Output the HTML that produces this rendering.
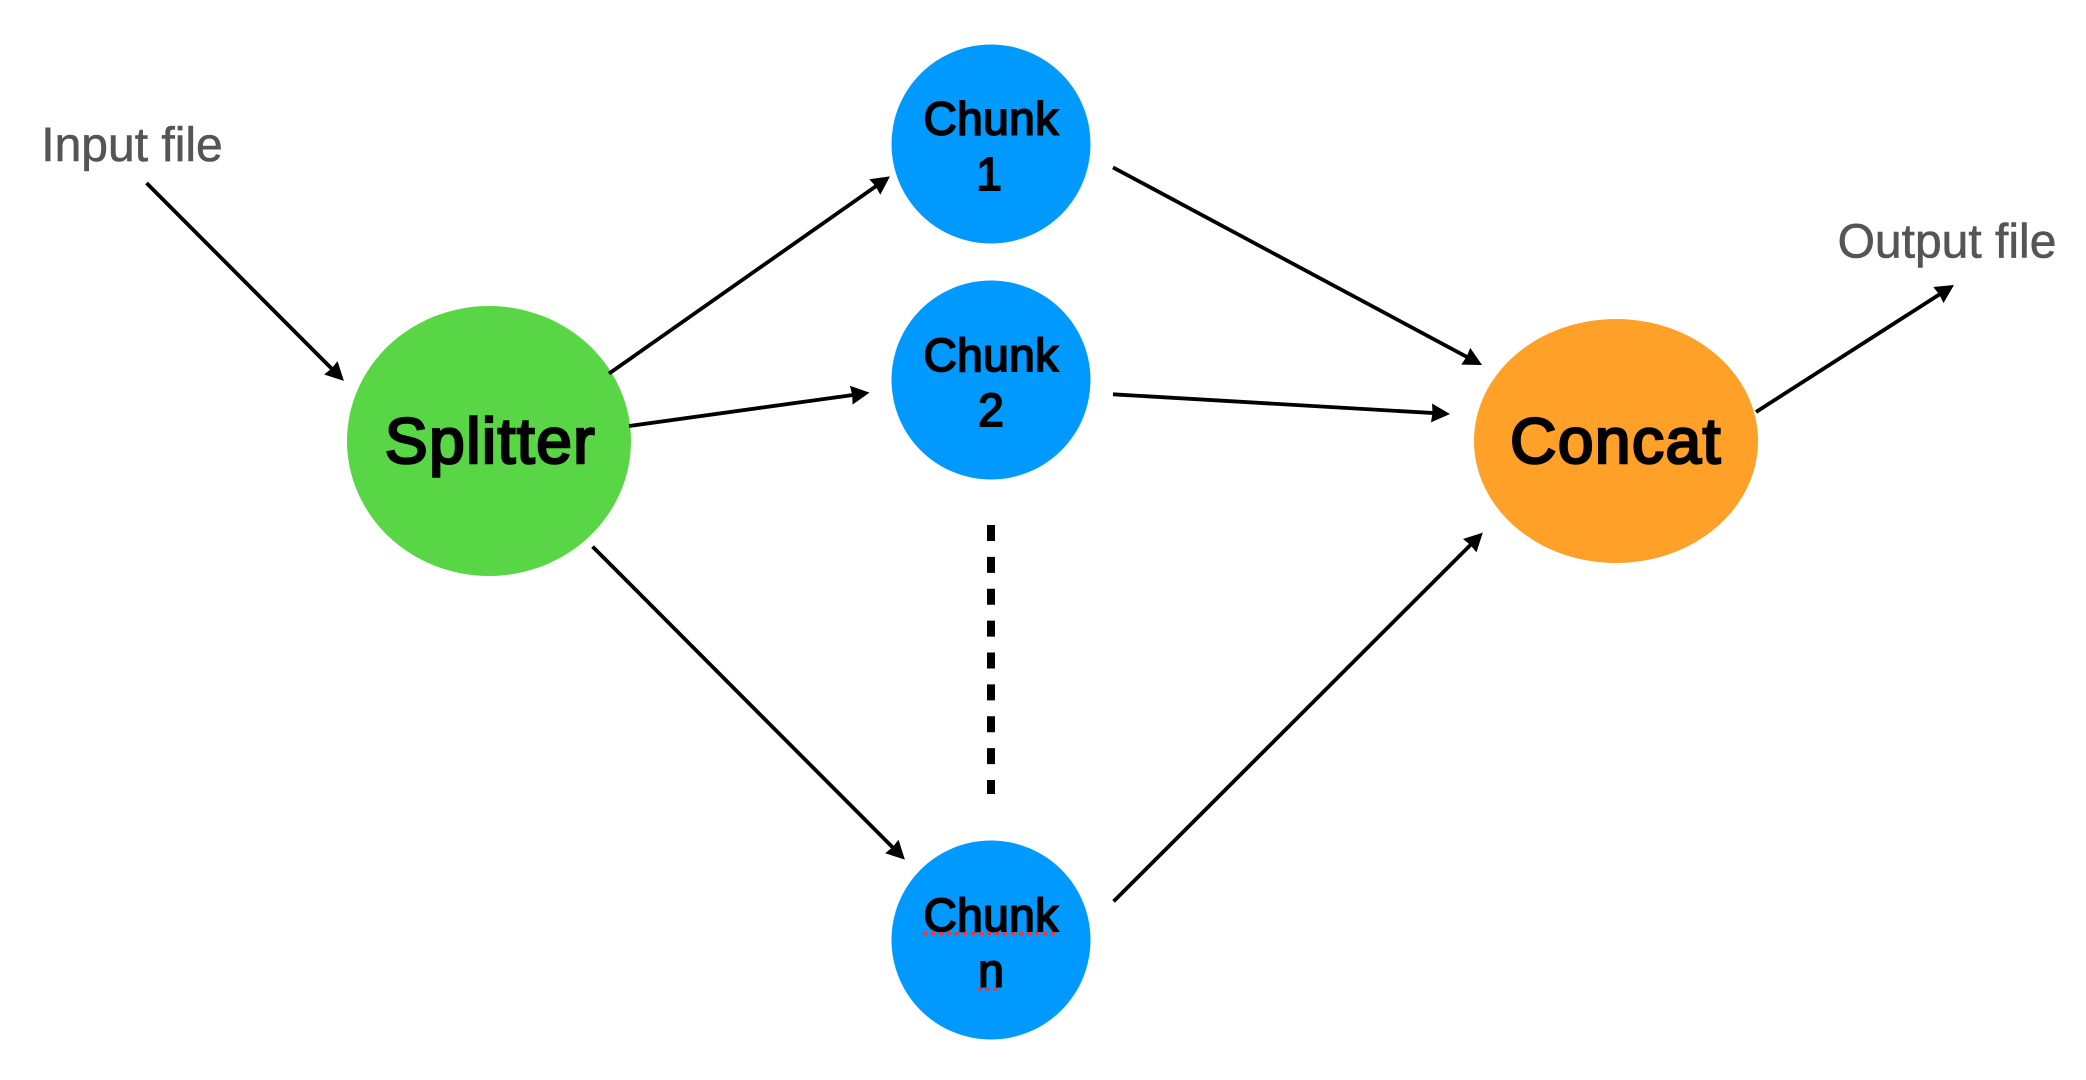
<!DOCTYPE html>
<html>
<head>
<meta charset="utf-8">
<style>
html,body{margin:0;padding:0;background:#fff;width:2086px;height:1080px;overflow:hidden}
svg{display:block}
text{font-family:"Liberation Sans",sans-serif;text-anchor:middle}
.c{font-size:46px;letter-spacing:.4px;fill:#000;stroke:#000;stroke-width:1.9px}
.n{font-size:46px;fill:#000;stroke:#000;stroke-width:1.9px}
.b{font-size:64px;letter-spacing:1.5px;fill:#000;stroke:#000;stroke-width:2.6px}
.l{font-size:48px;fill:#555;stroke:#555;stroke-width:.6px}
line.a{stroke:#000;stroke-width:3.8;marker-end:url(#h)}
</style>
</head>
<body>
<svg width="2086" height="1080" viewBox="0 0 2086 1080" xmlns="http://www.w3.org/2000/svg">
<defs>
<marker id="h" markerUnits="userSpaceOnUse" markerWidth="24" markerHeight="24" refX="4.5" refY="10" orient="auto" style="overflow:visible">
<polygon points="0,0.5 18.5,10 0,19.5 1,10" fill="#000"/>
</marker>
</defs>
<rect width="2086" height="1080" fill="#fff"/>

<ellipse cx="489" cy="441" rx="142" ry="135" fill="#58D645"/>
<ellipse cx="1616" cy="441" rx="142" ry="122" fill="#FFA028"/>
<circle cx="991" cy="144" r="99.5" fill="#009AFF"/>
<circle cx="991" cy="380" r="99.5" fill="#009AFF"/>
<circle cx="991" cy="940" r="99.5" fill="#009AFF"/>

<line class="a" x1="146.5" y1="183" x2="334" y2="371"/>
<line class="a" x1="609" y1="373.6" x2="878.5" y2="184.4"/>
<line class="a" x1="629" y1="426" x2="855.7" y2="394.6"/>
<line class="a" x1="592.6" y1="546.6" x2="895" y2="849.7"/>
<line class="a" x1="1113.6" y1="901.4" x2="1472.9" y2="542.5"/>
<line class="a" x1="1113" y1="167.4" x2="1469.7" y2="358.4"/>
<line class="a" x1="1113" y1="394.3" x2="1436" y2="413.2"/>
<line class="a" x1="1756" y1="412" x2="1942.2" y2="292.6"/>

<line x1="991" y1="525" x2="991" y2="794" stroke="#000" stroke-width="8" stroke-dasharray="16 15.875"/>

<text class="l" x="132" y="161">Input file</text>
<text class="l" x="1947" y="257.5">Output file</text>
<text class="b" x="490.5" y="463">Splitter</text>
<text class="b" x="1616" y="463">Concat</text>

<text class="c" x="991" y="134.5">Chunk</text>
<text class="n" x="989" y="190">1</text>
<text class="c" x="991" y="371">Chunk</text>
<text class="n" x="991" y="426">2</text>
<text class="c" x="991" y="931">Chunk</text>
<text class="n" x="991" y="986.5">n</text>

<line x1="923" y1="933.5" x2="1056" y2="933.5" stroke="#FF3030" stroke-width="3" stroke-dasharray="4 4"/>
<line x1="978" y1="989" x2="999" y2="989" stroke="#FF3030" stroke-width="3" stroke-dasharray="4 4"/>
</svg>
</body>
</html>
